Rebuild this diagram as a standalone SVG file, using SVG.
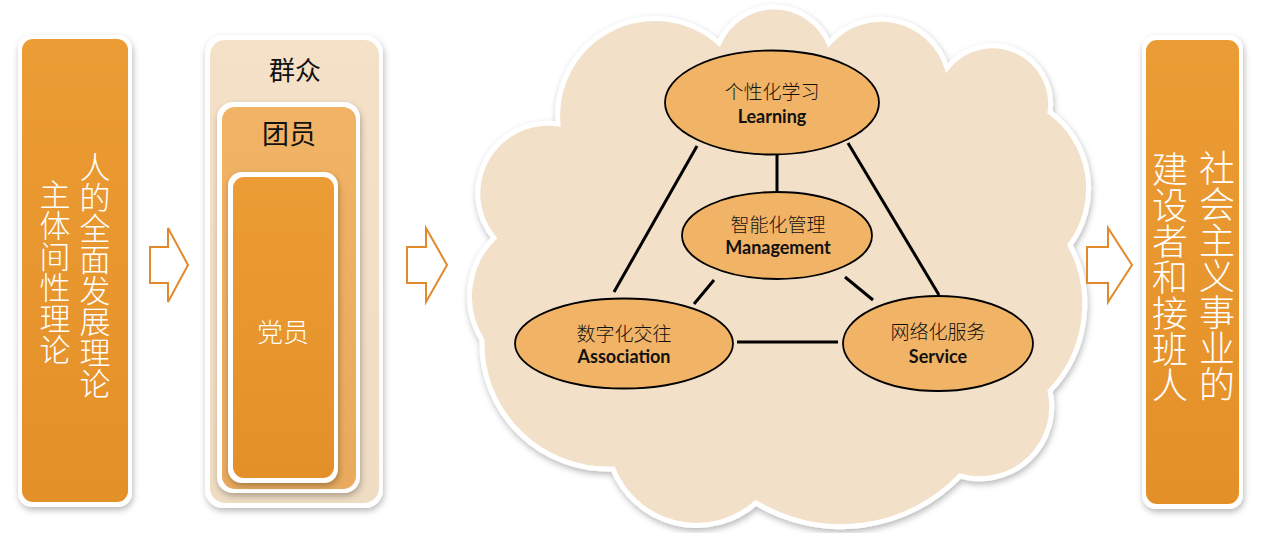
<svg xmlns="http://www.w3.org/2000/svg" width="1268" height="533" viewBox="0 0 1268 533">
<defs>
<filter id="sh" x="-10%" y="-10%" width="130%" height="130%">
<feDropShadow dx="1" dy="3" stdDeviation="3" flood-color="#000" flood-opacity="0.28"/>
</filter>
<linearGradient id="gOrange" x1="0" y1="0" x2="0" y2="1">
<stop offset="0" stop-color="#EC9C34"/>
<stop offset="1" stop-color="#E49029"/>
</linearGradient>
<linearGradient id="gBeige" x1="0" y1="0" x2="0" y2="1">
<stop offset="0" stop-color="#F4E1C8"/>
<stop offset="1" stop-color="#EEDCC3"/>
</linearGradient>
<linearGradient id="gLight" x1="0" y1="0" x2="0" y2="1">
<stop offset="0" stop-color="#F1B365"/>
<stop offset="1" stop-color="#E9AA5E"/>
</linearGradient>
<style>
.frame{fill:#fff;filter:url(#sh)}
.orange{fill:url(#gOrange)}
.arrow{fill:#fff;stroke:#E28A2B;stroke-width:2;stroke-linejoin:miter}
.vt{font-family:"Noto Sans CJK SC",sans-serif;font-weight:300;fill:#fff;text-anchor:middle;writing-mode:vertical-rl}
.node{fill:#F1B366;stroke:#000;stroke-width:1.8}
.cn{font-family:"Noto Sans CJK SC",sans-serif;font-weight:300;font-size:19px;fill:#111;text-anchor:middle}
.en{font-family:Lato,"Liberation Sans",sans-serif;font-weight:bold;font-size:18px;fill:#111;text-anchor:middle}
.conn line{stroke:#000;stroke-width:3}
</style>
</defs>
<rect width="1268" height="533" fill="#fff"/>

<g id="box-theory">
<rect class="frame" x="18" y="35" width="114" height="472" rx="14"/>
<rect class="orange" x="22" y="39" width="106" height="463" rx="11"/>
<text class="vt" font-size="31" x="95" y="275">人的全面发展理论</text>
<text class="vt" font-size="31" x="55" y="272">主体间性理论</text>
</g>

<g id="arrow1"><path class="arrow" d="M150,247 H168 V228 L188,265 L168,302 V283 H150 Z"/></g>

<g id="box-members">
<rect class="frame" x="205" y="35" width="178" height="473" rx="18"/>
<rect x="210" y="40" width="169" height="463" rx="15" fill="url(#gBeige)"/>
<text x="295" y="80" font-family="Noto Sans CJK SC,sans-serif" font-size="26" fill="#111" text-anchor="middle">群众</text>
<rect class="frame" x="217" y="102" width="143" height="391" rx="16"/>
<rect x="222" y="107" width="134" height="382" rx="13" fill="url(#gLight)"/>
<text x="289" y="144" font-family="Noto Sans CJK SC,sans-serif" font-size="27" fill="#111" text-anchor="middle">团员</text>
<rect class="frame" x="228" y="172" width="110" height="311" rx="14"/>
<rect class="orange" x="233" y="177" width="101" height="301" rx="11"/>
<text x="283" y="342" font-family="Noto Sans CJK SC,sans-serif" font-weight="300" font-size="26" fill="#fff" text-anchor="middle">党员</text>
</g>

<g id="arrow2"><path class="arrow" d="M407,247 H426 V228 L447,265 L426,302 V283 H407 Z"/></g>

<g id="cloud">
<path d="M494,238 A70,70 0 0 1 558,124 A97,97 0 0 1 719,43 A60,60 0 0 1 829,43 A69,69 0 0 1 947,68 A58,58 0 0 1 1050,112 A95,95 0 0 1 1070,245 A126,126 0 0 1 1050,391 A72,72 0 0 1 960,476 A165,165 0 0 1 756,503 A90,90 0 0 1 613,469 A126,126 0 0 1 482,340 A82,82 0 0 1 494,238 Z" fill="#F2E0C8" stroke="#fff" stroke-width="5" filter="url(#sh)"/>
</g>

<g id="connectors" class="conn">
<line x1="697" y1="146" x2="614" y2="292"/>
<line x1="848" y1="143" x2="939" y2="295"/>
<line x1="777" y1="155" x2="777" y2="193"/>
<line x1="714" y1="280" x2="694" y2="304"/>
<line x1="845" y1="277" x2="873" y2="300"/>
<line x1="737" y1="342" x2="838" y2="342"/>
</g>

<g id="node-learning">
<ellipse class="node" cx="772" cy="102.5" rx="107" ry="52"/>
<text class="cn" x="772" y="99">个性化学习</text>
<text class="en" x="772" y="123">Learning</text>
</g>
<g id="node-management">
<ellipse class="node" cx="777" cy="235.5" rx="95" ry="43.5"/>
<text class="cn" x="778" y="232">智能化管理</text>
<text class="en" x="778" y="254">Management</text>
</g>
<g id="node-association">
<ellipse class="node" cx="624" cy="343.5" rx="109" ry="45"/>
<text class="cn" x="624" y="341">数字化交往</text>
<text class="en" x="624" y="363">Association</text>
</g>
<g id="node-service">
<ellipse class="node" cx="938" cy="343.5" rx="95" ry="47.5"/>
<text class="cn" x="938" y="339">网络化服务</text>
<text class="en" x="938" y="363">Service</text>
</g>

<g id="arrow3"><path class="arrow" d="M1087,247 H1108 V228 L1132,265 L1108,302 V283 H1087 Z"/></g>

<g id="box-goal">
<rect class="frame" x="1142" y="35" width="101" height="474" rx="14"/>
<rect class="orange" x="1146" y="40" width="93" height="464" rx="11"/>
<text class="vt" font-size="36" x="1217" y="276">社会主义事业的</text>
<text class="vt" font-size="36" x="1170" y="277">建设者和接班人</text>
</g>
</svg>
